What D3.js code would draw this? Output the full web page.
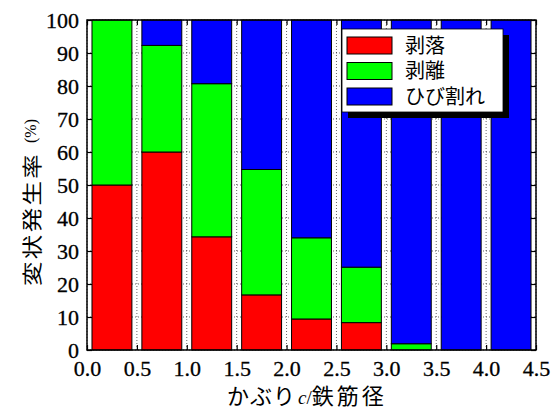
<!DOCTYPE html>
<html>
<head>
<meta charset="utf-8">
<script src="https://cdn.jsdelivr.net/npm/d3@7"></script>
<style>
  html, body { margin: 0; padding: 0; background: #fff; }
  svg { display: block; }
</style>
</head>
<body>
<svg id="chart" width="559" height="410"></svg>
<script>
// Cover-to-bar-diameter ratio bins (left edges, bin width 0.5)
const binStarts = [0.0, 0.5, 1.0, 1.5, 2.0, 2.5, 3.0, 3.5, 4.0];
// Occurrence rate (%) of each damage type per bin
const spalling     = [50, 60, 34.3, 16.7, 9.4, 8.3, 0, 0, 0];        // 剥落
const delamination = [50, 32.3, 46.4, 38.0, 24.6, 16.8, 1.9, 0, 0]; // 剥離
const cracking     = binStarts.map((_, i) => +(100 - spalling[i] - delamination[i]).toFixed(1)); // ひび割れ

const seriesNames = ["剥落", "剥離", "ひび割れ"];
const seriesColors = ["#ff0000", "#00ff00", "#0000ff"];
const xTicks = [0.0, 0.5, 1.0, 1.5, 2.0, 2.5, 3.0, 3.5, 4.0, 4.5];
const yTicks = [0, 10, 20, 30, 40, 50, 60, 70, 80, 90, 100];

const rows = binStarts.map((b, i) => ({ b, s0: spalling[i], s1: delamination[i], s2: cracking[i] }));

const svg = d3.select("#chart");
const margin = { left: 87, right: 23, top: 20, bottom: 60 };
const W = 559, H = 410;
const iw = W - margin.left - margin.right;
const ih = H - margin.top - margin.bottom;

const x = d3.scaleLinear().domain([0, 4.5]).range([margin.left, margin.left + iw]);
const y = d3.scaleLinear().domain([0, 100]).range([margin.top + ih, margin.top]);

const serif = "Liberation Serif";
const cjk = "Noto Sans CJK JP";

// dotted grid underneath the bars
const grid = svg.append("g");
grid.selectAll("line.vx").data(xTicks).join("line")
  .attr("x1", d => x(d)).attr("x2", d => x(d))
  .attr("y1", y(0)).attr("y2", y(100))
  .attr("stroke", "#000").attr("stroke-width", 0.6).attr("stroke-dasharray", "1,2");
grid.selectAll("line.hy").data(yTicks).join("line")
  .attr("x1", x(0)).attr("x2", x(4.5))
  .attr("y1", d => y(d)).attr("y2", d => y(d))
  .attr("stroke", "#000").attr("stroke-width", 0.6).attr("stroke-dasharray", "1,2");

// stacked bars
const stack = d3.stack().keys(["s0", "s1", "s2"]);
const layers = stack(rows);
const barW = 0.4;
svg.append("g").selectAll("g").data(layers).join("g")
  .attr("fill", (d, i) => seriesColors[i])
  .selectAll("rect").data(d => d.filter(p => p[1] - p[0] > 0)).join("rect")
  .attr("x", d => x(d.data.b + 0.25 - barW / 2))
  .attr("width", d => x(d.data.b + 0.25 + barW / 2) - x(d.data.b + 0.25 - barW / 2))
  .attr("y", d => y(d[1]))
  .attr("height", d => y(d[0]) - y(d[1]))
  .attr("stroke", "#000").attr("stroke-width", 1);

// axes with inward ticks on all sides
const tickLen = 5;
const axB = svg.append("g").attr("transform", `translate(0,${y(0)})`)
  .call(d3.axisBottom(x).tickValues(xTicks).tickFormat(d3.format(".1f")).tickSizeInner(-tickLen).tickSizeOuter(0).tickPadding(10));
const axT = svg.append("g").attr("transform", `translate(0,${y(100)})`)
  .call(d3.axisTop(x).tickValues(xTicks).tickFormat("").tickSizeInner(-tickLen).tickSizeOuter(0));
const axL = svg.append("g").attr("transform", `translate(${x(0)},0)`)
  .call(d3.axisLeft(y).tickValues(yTicks).tickSizeInner(-tickLen).tickSizeOuter(0).tickPadding(8));
const axR = svg.append("g").attr("transform", `translate(${x(4.5)},0)`)
  .call(d3.axisRight(y).tickValues(yTicks).tickFormat("").tickSizeInner(-tickLen).tickSizeOuter(0));
[axB, axT, axL, axR].forEach(a => {
  a.select(".domain").remove();
  a.attr("font-family", serif).attr("font-size", 22);
  a.selectAll(".tick line").attr("stroke", "#000").attr("stroke-width", 1.2);
  a.selectAll(".tick text")
    .attr("font-family", serif).attr("font-size", 22).attr("fill", "#000")
    .attr("stroke", "#000").attr("stroke-width", 0.3)
    .style("font-family", serif).style("font-size", "22px");
});
axB.selectAll("text").attr("dy", "0.71em");

// frame
svg.append("rect")
  .attr("x", x(0)).attr("y", y(100))
  .attr("width", x(4.5) - x(0)).attr("height", y(0) - y(100))
  .attr("fill", "none").attr("stroke", "#000").attr("stroke-width", 1.5);

// axis titles
const xt = svg.append("text")
  .attr("x", 227).attr("y", 404)
  .attr("text-anchor", "start")
  .attr("font-family", cjk).attr("font-size", 22).attr("fill", "#000");
xt.append("tspan").attr("letter-spacing", 1).text("かぶり");
xt.append("tspan").attr("dx", 2).attr("font-family", serif).attr("font-style", "italic").attr("font-size", 19).text("c");
xt.append("tspan").attr("font-family", serif).attr("font-size", 19).text("/");
xt.append("tspan").attr("letter-spacing", 3).text("鉄筋径");

// rotated y title: CJK part slightly stretched along the reading direction
const yg = svg.append("g").attr("transform", "translate(40,286) rotate(-90)");
yg.append("text")
  .attr("transform", "scale(1.22,1)")
  .attr("font-family", cjk).attr("font-size", 20).attr("letter-spacing", 2)
  .attr("fill", "#000")
  .text("変状発生率");
yg.append("text")
  .attr("x", 143).attr("y", -4)
  .attr("font-family", serif).attr("font-size", 16)
  .attr("fill", "#000")
  .text("(%)");

// legend with drop shadow
const lg = svg.append("g").attr("transform", "translate(342,29)");
const lgW = 161, lgH = 83;
lg.append("rect").attr("x", 6).attr("y", 6).attr("width", lgW).attr("height", lgH).attr("fill", "#000");
lg.append("rect").attr("width", lgW).attr("height", lgH).attr("fill", "#fff").attr("stroke", "#000").attr("stroke-width", 0.8);
const items = lg.selectAll("g.item").data(seriesNames).join("g")
  .attr("transform", (d, i) => `translate(5,${8 + i * 25.5})`);
items.append("rect").attr("width", 45).attr("height", 17)
  .attr("fill", (d, i) => seriesColors[i]).attr("stroke", "#000").attr("stroke-width", 1);
items.append("text").attr("x", 58).attr("y", 8.5).attr("dy", "0.36em")
  .attr("font-family", cjk).attr("font-size", 20).attr("fill", "#000")
  .text(d => d);
</script>
</body>
</html>
